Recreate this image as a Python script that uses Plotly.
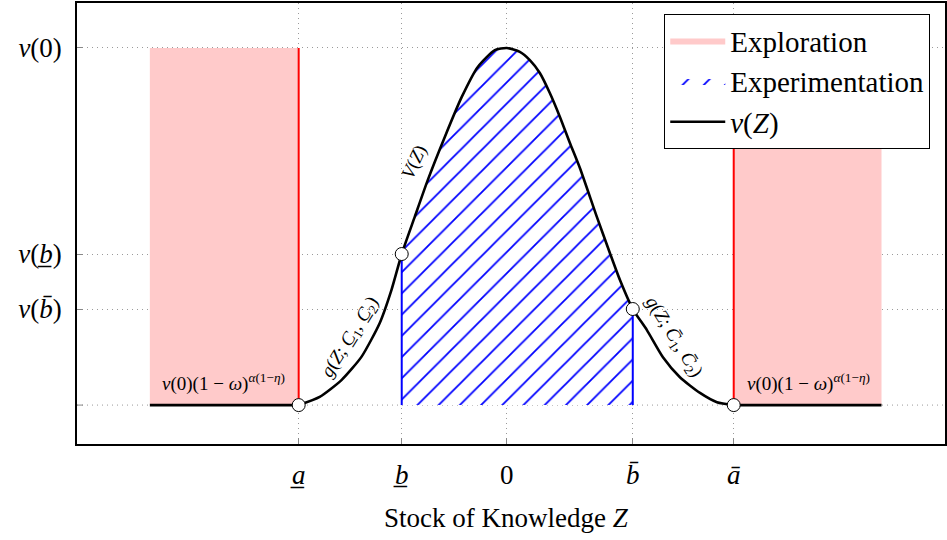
import plotly.graph_objects as go

# ---- key positions (data units) ----
a_low, b_low, z0, b_high, a_high = -2.0, -1.01, 0.0, 1.21, 2.18
x_left_start, x_right_end = -3.43, 3.60
v0, v_blow, v_bhigh, v_base = 1.0, 0.423, 0.269, 0.0

x_ticks = [a_low, b_low, z0, b_high, a_high]
x_tick_labels = ["<i>a\u0332</i>", "<i>b\u0332</i>", "0", "<i>b\u0304</i>", "<i>a\u0304</i>"]
y_ticks = [v_bhigh, v_blow, v0]
y_tick_labels = ["<i>v</i>(<i>b\u0304</i>)", "<i>v</i>(<i>b\u0332</i>)", "<i>v</i>(0)"]

# ---- curve ----
g_left_x = [-2.0, -1.798, -1.589, -1.397, -1.221, -1.109, -1.01]
g_left_y = [0.0, 0.023, 0.070, 0.135, 0.230, 0.322, 0.423]
V_x = [-1.01, -0.885, -0.760, -0.596, -0.433, -0.279, -0.115, 0.0, 0.125, 0.221, 0.317, 0.413, 0.510, 0.606, 0.702, 0.865, 0.990, 1.087, 1.21]
V_y = [0.423, 0.527, 0.630, 0.751, 0.863, 0.947, 0.994, 1.0, 0.989, 0.966, 0.930, 0.874, 0.807, 0.734, 0.664, 0.527, 0.426, 0.350, 0.269]
g_right_x = [1.21, 1.346, 1.50, 1.663, 1.856, 2.019, 2.18]
g_right_y = [0.269, 0.210, 0.134, 0.078, 0.034, 0.008, 0.0]

SERIF = "Liberation Serif"
fig = go.Figure()

# Exploration rectangles
fig.add_trace(go.Scatter(x=[x_left_start, a_low, a_low, x_left_start, x_left_start],
                         y=[v_base, v_base, v0, v0, v_base], fill="toself",
                         fillcolor="#ffcaca", line=dict(width=0), mode="lines",
                         name="Exploration", legendgroup="exp", hoverinfo="skip"))
fig.add_trace(go.Scatter(x=[a_high, x_right_end, x_right_end, a_high, a_high],
                         y=[v_base, v_base, v0, v0, v_base], fill="toself",
                         fillcolor="#ffcaca", line=dict(width=0), mode="lines",
                         showlegend=False, legendgroup="exp", hoverinfo="skip"))

# red verticals
for xv in [a_low, a_high]:
    fig.add_trace(go.Scatter(x=[xv, xv], y=[v_base, v0], mode="lines",
                             line=dict(color="red", width=2), showlegend=False, hoverinfo="skip"))

# Experimentation hatch
fig.add_trace(go.Scatter(x=V_x, y=V_y, fill="tozeroy", mode="lines",
                         line=dict(width=0.5, shape="spline", smoothing=0.6, color="rgba(0,0,0,0)"),
                         fillcolor="white",
                         fillpattern=dict(shape="/", fgcolor="#0000ff", bgcolor="white",
                                          fgopacity=1, fillmode="replace",
                                          size=15, solidity=0.12),
                         name="Experimentation", hoverinfo="skip"))

# blue verticals
for xv, yv in [(b_low, v_blow), (b_high, v_bhigh)]:
    fig.add_trace(go.Scatter(x=[xv, xv], y=[v_base, yv], mode="lines",
                             line=dict(color="blue", width=2), showlegend=False, hoverinfo="skip"))

# v(Z): flat parts and smooth middle part
fig.add_trace(go.Scatter(x=[x_left_start, a_low], y=[v_base, v_base], mode="lines",
                         line=dict(color="black", width=2.6), legendgroup="v",
                         showlegend=False, hoverinfo="skip"))
fig.add_trace(go.Scatter(x=[a_high, x_right_end], y=[v_base, v_base], mode="lines",
                         line=dict(color="black", width=2.6), legendgroup="v",
                         showlegend=False, hoverinfo="skip"))
curve_x = g_left_x + V_x[1:] + g_right_x[1:]
curve_y = g_left_y + V_y[1:] + g_right_y[1:]
fig.add_trace(go.Scatter(x=curve_x, y=curve_y, mode="lines", legendgroup="v",
                         line=dict(color="black", width=2.6, shape="spline", smoothing=0.6),
                         name="<i>v</i>(<i>Z</i>)", hoverinfo="skip"))

# markers
fig.add_trace(go.Scatter(x=[a_low, b_low, b_high, a_high], y=[v_base, v_blow, v_bhigh, v_base],
                         mode="markers", marker=dict(size=13, color="white",
                                                     line=dict(color="black", width=1)),
                         showlegend=False, hoverinfo="skip"))

base_lbl = "<i>v</i>(0)(1 \u2212 <i>\u03c9</i>)<sup><i>\u03b1</i>(1\u2212<i>\u03b7</i>)</sup>"
ann = [
    dict(x=-2.72, y=0.064, text=base_lbl, textangle=0),
    dict(x=2.90, y=0.064, text=base_lbl, textangle=0),
    dict(x=-1.50, y=0.19, text="<i>g</i>(<i>Z</i>; <i>C\u0332</i><sub>1</sub>, <i>C\u0332</i><sub>2</sub>)", textangle=-58),
    dict(x=1.60, y=0.19, text="<i>g</i>(<i>Z</i>; <i>C\u0304</i><sub>1</sub>, <i>C\u0304</i><sub>2</sub>)", textangle=58),
    dict(x=-0.89, y=0.68, text="<i>V</i>(<i>Z</i>)", textangle=-65),
]
for a in ann:
    fig.add_annotation(x=a["x"], y=a["y"], text=a["text"], textangle=a["textangle"],
                       showarrow=False, font=dict(family=SERIF, size=19, color="black"))

fig.add_annotation(x=0, xref="x", y=-0.168, yref="paper", yanchor="middle",
                   text="Stock of Knowledge <i>Z</i>",
                   showarrow=False, font=dict(family=SERIF, size=27, color="black"))

# baseline dotted grid line and its tick
fig.add_shape(type="line", xref="paper", x0=0, x1=1, yref="y", y0=v_base, y1=v_base,
              line=dict(color="#9a9a9a", width=1, dash="1px,4px"), layer="below")
fig.add_shape(type="line", xref="paper", x0=0, x1=6 / 868, yref="y", y0=v_base, y1=v_base,
              line=dict(color="#888", width=1), layer="below")

fig.update_xaxes(range=[-4.13, 4.21], tickvals=x_ticks, ticktext=x_tick_labels,
                 showgrid=True, gridcolor="#9a9a9a", griddash="1px,4px", gridwidth=1,
                 zeroline=False, showline=True, mirror=True, linecolor="black", linewidth=1.5,
                 ticks="inside", ticklen=6, tickcolor="#888", ticklabelstandoff=6,
                 tickfont=dict(family=SERIF, size=27, color="black"))
fig.update_yaxes(range=[-0.109, 1.126], tickvals=y_ticks, ticktext=y_tick_labels,
                 showgrid=True, gridcolor="#9a9a9a", griddash="1px,4px", gridwidth=1,
                 zeroline=False, showline=True, mirror=True, linecolor="black", linewidth=1.5,
                 ticks="inside", ticklen=6, tickcolor="#888", ticklabelstandoff=8,
                 tickfont=dict(family=SERIF, size=27, color="black"))

fig.update_layout(
    width=947, height=540, plot_bgcolor="white", paper_bgcolor="white",
    margin=dict(l=77, r=2, t=3, b=96, autoexpand=False),
    legend=dict(x=0.983, y=0.975, xanchor="right", yanchor="top", bgcolor="white",
                bordercolor="black", borderwidth=1, font=dict(family=SERIF, size=29, color="black"),
                traceorder="normal", itemwidth=55),
)
fig.write_html("out.html")
